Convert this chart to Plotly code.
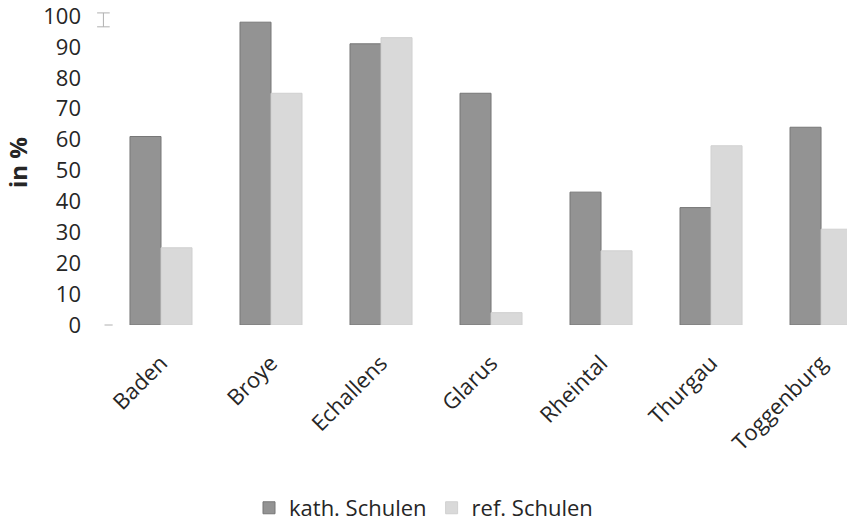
import plotly.graph_objects as go

categories = ["Baden", "Broye", "Echallens", "Glarus", "Rheintal", "Thurgau", "Toggenburg"]
kath_values = [61, 98, 91, 75, 43, 38, 64]
ref_values = [25, 75, 93, 4, 24, 58, 31]
series_names = ["kath. Schulen", "ref. Schulen"]
y_ticks = [0, 10, 20, 30, 40, 50, 60, 70, 80, 90, 100]

FONT = "Open Sans"
TXT = "#262626"
FS = 22

fig = go.Figure()
fig.add_trace(go.Bar(
    x=categories, y=kath_values, name=series_names[0],
    marker=dict(color="#939393", line=dict(color="#777777", width=1)),
))
fig.add_trace(go.Bar(
    x=categories, y=ref_values, name=series_names[1],
    marker=dict(color="#d9d9d9", line=dict(color="#d0d0d0", width=1)),
))

# faint axis remnants visible in the original image
GRAY = dict(color="#b0b0b0", width=1)
fig.add_shape(type="line", xref="paper", yref="paper", x0=-0.002, x1=0.009, y0=0, y1=0, line=GRAY)
fig.add_shape(type="line", xref="paper", yref="paper", x0=-0.012, x1=0.005, y0=1.01, y1=1.01, line=GRAY)
fig.add_shape(type="line", xref="paper", yref="paper", x0=-0.012, x1=0.005, y0=0.965, y1=0.965, line=GRAY)
fig.add_shape(type="line", xref="paper", yref="paper", x0=-0.0035, x1=-0.0035, y0=0.965, y1=1.01, line=GRAY)

fig.add_annotation(
    text="<b>in %</b>", textangle=-90, showarrow=False,
    xref="paper", yref="paper", x=0, y=0.524, xshift=-89,
    xanchor="center", yanchor="middle",
    font=dict(family=FONT, size=24, color=TXT),
)

fig.update_layout(
    width=847, height=521,
    margin=dict(l=106, r=0, t=16, b=196, autoexpand=False),
    paper_bgcolor="white", plot_bgcolor="white",
    barmode="group", bargap=0.436, bargroupgap=0,
    font=dict(family=FONT, size=FS, color=TXT),
    showlegend=True,
    legend=dict(
        orientation="h", xref="container", yref="container",
        x=0.50, y=0.025, xanchor="center", yanchor="middle",
        font=dict(family=FONT, size=FS, color=TXT),
        tracegroupgap=0,
    ),
    xaxis=dict(
        range=[-0.5, 6.236], tickangle=-45, showgrid=False, showline=False,
        zeroline=False, ticks="", ticklabelstandoff=20,
        tickfont=dict(family=FONT, size=FS, color=TXT),
        automargin=False,
    ),
    yaxis=dict(
        range=[0, 100], tickvals=y_ticks, showgrid=False, showline=False,
        zeroline=False, ticks="", ticklabelstandoff=24, ticklabeloverflow="allow",
        tickfont=dict(family=FONT, size=FS, color=TXT),
        automargin=False,
    ),
)

fig.write_html("out.html")
